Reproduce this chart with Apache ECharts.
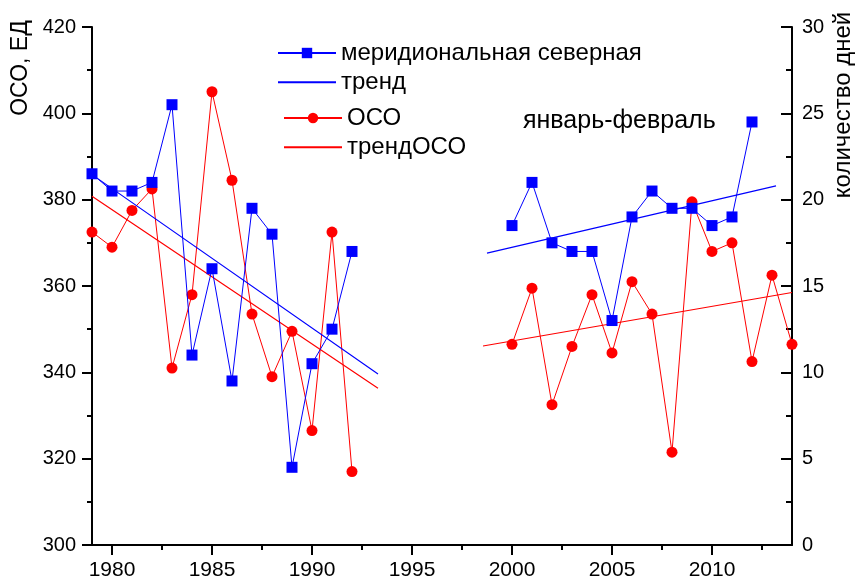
<!DOCTYPE html>
<html>
<head>
<meta charset="utf-8">
<script src="https://cdn.jsdelivr.net/npm/echarts@6/dist/echarts.min.js"></script>
<style>html,body{margin:0;padding:0;background:#fff;}#c{width:855px;height:581px;}</style>
</head>
<body>
<div id="c"></div>
<script>
// ---- data ----
const blueYears1 = [1979,1980,1981,1982,1983,1984,1985,1986,1987,1988,1989,1990,1991,1992];
const blueDays1  = [21.5,20.5,20.5,21,25.5,11,16,9.5,19.5,18,4.5,10.5,12.5,17];
const blueYears2 = [2000,2001,2002,2003,2004,2005,2006,2007,2008,2009,2010,2011,2012];
const blueDays2  = [18.5,21,17.5,17,17,13,19,20.5,19.5,19.5,18.5,19,24.5];

const redYears1 = [1979,1980,1981,1982,1983,1984,1985,1986,1987,1988,1989,1990,1991,1992];
const redOzone1 = [372.5,369,377.5,382.5,341,358,405,384.5,353.5,339,349.5,326.5,372.5,317];
const redYears2 = [2000,2001,2002,2003,2004,2005,2006,2007,2008,2009,2010,2011,2012,2013,2014];
const redOzone2 = [346.5,359.5,332.5,346,358,344.5,361,353.5,321.5,379.5,368,370,342.5,362.5,346.5];

const blueTrendYears1 = [1979, 1993.3];
const blueTrendDays1  = [21.45, 9.9];
const blueTrendYears2 = [1998.75, 2013.2];
const blueTrendDays2  = [16.9, 20.8];

const redTrendYears1 = [1979, 1993.3];
const redTrendOzone1 = [380.8, 336.3];
const redTrendYears2 = [1998.55, 2014];
const redTrendOzone2 = [346.1, 358.5];

const xMajorTicks = [1980,1985,1990,1995,2000,2005,2010];
const xMinorTicks = [1982.5,1987.5,1992.5,1997.5,2002.5,2007.5,2012.5];

const legendNames = ['меридиональная северная','тренд','ОСО','трендОСО'];
const leftAxisName = 'ОСО, ЕД';
const rightAxisName = 'количество дней';
const periodLabel = 'январь-февраль';

// ---- build ----
function pairs(xs1, ys1, xs2, ys2) {
  const out = xs1.map((x, i) => [x, ys1[i]]);
  out.push([(xs1[xs1.length-1] + xs2[0]) / 2, null]);
  return out.concat(xs2.map((x, i) => [x, ys2[i]]));
}

const FONT = 'Liberation Sans, Arial, sans-serif';
const chart = echarts.init(document.getElementById('c'), null, {renderer: 'canvas'});
const legendText = {fontSize: 24, color: '#000', fontFamily: FONT, lineHeight: 24};

const option = {
  backgroundColor: '#fff',
  animation: false,
  textStyle: {fontFamily: FONT},
  grid: {left: 92, right: 63, top: 27, bottom: 35, containLabel: false},
  legend: [
    {
      data: [
        {name: legendNames[0]},
        {name: legendNames[1], itemStyle: {opacity: 0}}
      ],
      orient: 'vertical', left: 277, top: 41, padding: 0,
      itemWidth: 58, itemHeight: 13, itemGap: 5.3,
      textStyle: legendText
    },
    {
      data: [
        {name: legendNames[2]},
        {name: legendNames[3], itemStyle: {opacity: 0}}
      ],
      orient: 'vertical', left: 283, top: 106, padding: 0,
      itemWidth: 58, itemHeight: 13, itemGap: 5.3,
      textStyle: legendText
    }
  ],
  xAxis: [
    {
      type: 'value', min: 1979, max: 2014, position: 'bottom',
      axisLine: {show: true, onZero: false, lineStyle: {color: '#000', width: 2}},
      axisTick: {show: true, customValues: xMajorTicks, length: 10, lineStyle: {color: '#000', width: 2}},
      axisLabel: {show: true, customValues: xMajorTicks, margin: 15, fontSize: 21, color: '#000', fontFamily: FONT,
                  formatter: v => String(v)},
      splitLine: {show: false}
    },
    {
      type: 'value', min: 1979, max: 2014, position: 'bottom', offset: 0,
      axisLine: {show: false, onZero: false},
      axisTick: {show: true, customValues: xMinorTicks, length: 5, lineStyle: {color: '#000', width: 2}},
      axisLabel: {show: false},
      splitLine: {show: false}
    }
  ],
  yAxis: [
    {
      type: 'value', min: 300, max: 420, interval: 20, position: 'left',
      axisLine: {show: true, onZero: false, lineStyle: {color: '#000', width: 2}},
      axisTick: {show: true, inside: false, length: 10, lineStyle: {color: '#000', width: 2}},
      minorTick: {show: true, splitNumber: 2, length: 5, lineStyle: {color: '#000', width: 2}},
      axisLabel: {margin: 16, fontSize: 20, color: '#000', fontFamily: FONT},
      splitLine: {show: false}
    },
    {
      type: 'value', min: 0, max: 30, interval: 5, position: 'right',
      axisLine: {show: true, onZero: false, lineStyle: {color: '#000', width: 2}},
      axisTick: {show: true, inside: true, length: 11, lineStyle: {color: '#000', width: 2}},
      minorTick: {show: true, splitNumber: 2, length: 6, lineStyle: {color: '#000', width: 2}},
      axisLabel: {margin: 10, fontSize: 20, color: '#000', fontFamily: FONT},
      splitLine: {show: false}
    }
  ],
  series: [
    {
      name: legendNames[2], type: 'line', xAxisIndex: 0, yAxisIndex: 0,
      data: pairs(redYears1, redOzone1, redYears2, redOzone2),
      symbol: 'circle', symbolSize: 11, connectNulls: false,
      lineStyle: {color: '#ff0000', width: 1},
      itemStyle: {color: '#ff0000'}, z: 2
    },
    {
      name: legendNames[3], type: 'line', xAxisIndex: 0, yAxisIndex: 0,
      data: pairs(redTrendYears1, redTrendOzone1, redTrendYears2, redTrendOzone2),
      symbol: 'none', connectNulls: false,
      lineStyle: {color: '#ff0000', width: 1.2},
      itemStyle: {color: '#ff0000'}, z: 2
    },
    {
      name: legendNames[0], type: 'line', xAxisIndex: 0, yAxisIndex: 1,
      data: pairs(blueYears1, blueDays1, blueYears2, blueDays2),
      symbol: 'rect', symbolSize: 11, connectNulls: false,
      lineStyle: {color: '#0000ff', width: 1},
      itemStyle: {color: '#0000ff'}, z: 3
    },
    {
      name: legendNames[1], type: 'line', xAxisIndex: 0, yAxisIndex: 1,
      data: pairs(blueTrendYears1, blueTrendDays1, blueTrendYears2, blueTrendDays2),
      symbol: 'none', connectNulls: false,
      lineStyle: {color: '#0000ff', width: 1.2},
      itemStyle: {color: '#0000ff'}, z: 3
    }
  ],
  graphic: [
    {type: 'text', x: 21, y: 68, rotation: Math.PI/2,
     style: {text: leftAxisName, fontSize: 23, fontFamily: FONT, fill: '#000', textAlign: 'center', textVerticalAlign: 'middle'}},
    {type: 'text', x: 843, y: 105, rotation: Math.PI/2,
     style: {text: rightAxisName, fontSize: 24, fontFamily: FONT, fill: '#000', textAlign: 'center', textVerticalAlign: 'middle'}},
    {type: 'text', x: 523, y: 121,
     style: {text: periodLabel, fontSize: 25, fontFamily: FONT, fill: '#000', textAlign: 'left', textVerticalAlign: 'middle'}}
  ]
};
chart.setOption(option);
</script>
</body>
</html>
